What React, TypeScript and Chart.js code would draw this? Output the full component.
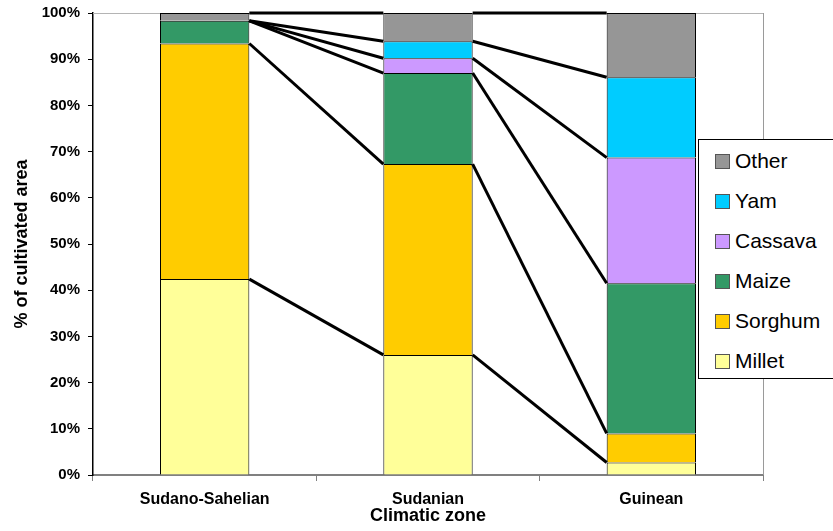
import React, { useEffect, useRef } from "react";
import { Chart, registerables } from "chart.js";

Chart.register(...registerables);

const categories = ["Sudano-Sahelian", "Sudanian", "Guinean"];
const seriesNames = ["Millet", "Sorghum", "Maize", "Cassava", "Yam", "Other"];
const millet = [42.4, 26.0, 2.7];
const sorghum = [51.0, 41.3, 6.3];
const maize = [4.9, 19.7, 32.5];
const cassava = [0, 3.2, 27.2];
const yam = [0, 3.7, 17.4];
const other = [1.7, 6.1, 13.9];
const seriesValues = [millet, sorghum, maize, cassava, yam, other];
const seriesColors = ["#FFFF99", "#FFCC00", "#339966", "#CC99FF", "#00CCFF", "#969696"];
const yTicks = [0, 10, 20, 30, 40, 50, 60, 70, 80, 90, 100];

const seriesLinesPlugin = {
  id: "seriesLines",
  beforeDatasetsDraw(chart: any) {
    const { ctx, chartArea } = chart;
    ctx.save();
    ctx.lineWidth = 1;
    ctx.strokeStyle = "#b4b4b4";
    ctx.beginPath();
    ctx.moveTo(chartArea.left, chartArea.top + 0.5);
    ctx.lineTo(chartArea.right + 0.5, chartArea.top + 0.5);
    ctx.stroke();
    ctx.strokeStyle = "#9a9a9a";
    ctx.beginPath();
    ctx.moveTo(chartArea.right + 0.5, chartArea.top);
    ctx.lineTo(chartArea.right + 0.5, chartArea.bottom);
    ctx.stroke();
    ctx.restore();
  },
  afterDatasetsDraw(chart: any) {
    const { ctx } = chart;
    ctx.save();
    ctx.strokeStyle = "#000";
    ctx.lineWidth = 3;
    ctx.lineCap = "butt";
    chart.data.datasets.forEach((_ds: any, d: number) => {
      const meta = chart.getDatasetMeta(d);
      for (let i = 0; i < meta.data.length - 1; i++) {
        const a = meta.data[i].getProps(["x", "y", "width"], true);
        const b = meta.data[i + 1].getProps(["x", "y", "width"], true);
        ctx.beginPath();
        ctx.moveTo(a.x + a.width / 2, a.y);
        ctx.lineTo(b.x - b.width / 2, b.y);
        ctx.stroke();
      }
    });
    ctx.restore();
  },
};

export default function App() {
  const canvasRef = useRef<HTMLCanvasElement | null>(null);

  useEffect(() => {
    document.body.style.margin = "0";
    const canvas = canvasRef.current;
    if (!canvas) return;
    const chart = new Chart(canvas, {
      type: "bar",
      data: {
        labels: categories,
        datasets: seriesNames.map((name, i) => ({
          label: name,
          data: seriesValues[i],
          backgroundColor: seriesColors[i],
          borderColor: "#000",
          borderWidth: 1,
          barPercentage: 0.4,
          categoryPercentage: 1.0,
        })),
      },
      options: {
        animation: false,
        responsive: false,
        maintainAspectRatio: false,
        layout: { padding: { top: 13, right: 70, left: 0, bottom: 0 } },
        plugins: {
          legend: { display: false },
          tooltip: { enabled: false },
        },
        scales: {
          x: {
            stacked: true,
            afterFit: (scale: any) => {
              scale.height = 56;
            },
            grid: {
              offset: true,
              drawOnChartArea: false,
              drawTicks: true,
              tickLength: 6,
              color: "#808080",
            },
            border: { color: "#808080", width: 2 },
            ticks: {
              color: "#000",
              padding: 9,
              font: { family: "'Liberation Sans', Arial, sans-serif", size: 16, weight: "bold" },
            },
            title: {
              display: true,
              text: "Climatic zone",
              color: "#000",
              padding: { top: 0, bottom: 4 },
              font: { family: "'Liberation Sans', Arial, sans-serif", size: 18, weight: "bold" },
            },
          },
          y: {
            stacked: true,
            min: 0,
            max: 100,
            afterFit: (scale: any) => {
              scale.width = 93;
              scale.paddingTop = 0;
              scale.paddingBottom = 0;
            },
            afterBuildTicks: (scale: any) => {
              scale.ticks = yTicks.map((v) => ({ value: v }));
            },
            grid: {
              drawOnChartArea: false,
              drawTicks: true,
              tickLength: 5,
              color: "#000",
            },
            border: { color: "#000", width: 1.5 },
            ticks: {
              color: "#000",
              padding: 8,
              callback: (v: any) => v + "%",
              font: { family: "'Liberation Sans', Arial, sans-serif", size: 15, weight: "bold" },
            },
            title: {
              display: true,
              text: "% of cultivated area",
              color: "#000",
              padding: { top: 11, bottom: 0 },
              font: { family: "'Liberation Sans', Arial, sans-serif", size: 18, weight: "bold" },
            },
          },
        },
      },
      plugins: [seriesLinesPlugin],
    } as any);
    return () => chart.destroy();
  }, []);

  const legendItems = [...seriesNames].map((n, i) => ({ name: n, color: seriesColors[i] })).reverse();

  return (
    <div style={{ position: "relative", width: 833, height: 531, overflow: "hidden", background: "#fff" }}>
      <canvas ref={canvasRef} width={833} height={531} style={{ display: "block", width: 833, height: 531 }} />
      <div
        style={{
          position: "absolute",
          left: 698,
          top: 139,
          width: 140,
          height: 240,
          boxSizing: "border-box",
          border: "1px solid #000",
          background: "#fff",
          fontFamily: "'Liberation Sans', Arial, sans-serif",
          fontSize: 21,
          color: "#000",
        }}
      >
        {legendItems.map((it, i) => (
          <div
            key={it.name}
            style={{
              position: "absolute",
              left: 16,
              top: 21 + i * 40 - 12,
              height: 24,
              display: "flex",
              alignItems: "center",
              whiteSpace: "nowrap",
            }}
          >
            <span
              style={{
                display: "inline-block",
                width: 13,
                height: 13,
                background: it.color,
                border: "1px solid #555",
                marginRight: 5,
              }}
            />
            <span style={{ lineHeight: "24px" }}>{it.name}</span>
          </div>
        ))}
      </div>
    </div>
  );
}
